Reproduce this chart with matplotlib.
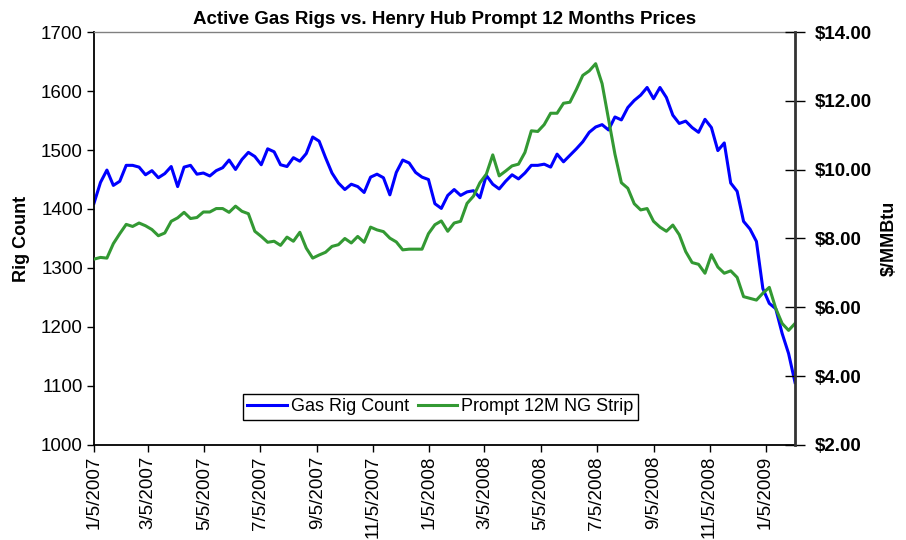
import numpy as np
import pandas as pd
import matplotlib
matplotlib.use("Agg")
import matplotlib.pyplot as plt
from matplotlib.ticker import FuncFormatter, MultipleLocator

plt.rcParams['font.family'] = ['Liberation Sans', 'DejaVu Sans']

# weekly data, Fridays starting 1/5/2007
week_start = "2007-01-05"
rig_count = [1410, 1445, 1466, 1440, 1447, 1474, 1474, 1471, 1458, 1465,
             1453, 1460, 1472, 1438, 1471, 1474, 1459, 1461, 1456, 1465,
             1470, 1483, 1467, 1484, 1496, 1489, 1475, 1502, 1497, 1475,
             1472, 1487, 1481, 1494, 1522, 1515, 1487, 1461, 1444, 1433,
             1442, 1438, 1428, 1454, 1459, 1453, 1424, 1462, 1483, 1478,
             1462, 1454, 1450, 1409, 1401, 1423, 1433, 1423, 1429, 1431,
             1419, 1457, 1442, 1434, 1447, 1458, 1451, 1461, 1474, 1474,
             1476, 1471, 1493, 1480, 1491, 1502, 1514, 1530, 1539, 1543,
             1534, 1556, 1551, 1572, 1584, 1593, 1606, 1587, 1606, 1589,
             1559, 1545, 1549, 1538, 1530, 1552, 1538, 1499, 1512, 1444,
             1430, 1379, 1366, 1345, 1265, 1240, 1231, 1189, 1155, 1106]
ng_strip = [7.40, 7.45, 7.43, 7.85, 8.14, 8.41, 8.35, 8.45, 8.37, 8.26,
            8.08, 8.16, 8.50, 8.60, 8.76, 8.58, 8.61, 8.77, 8.77, 8.87,
            8.87, 8.76, 8.94, 8.79, 8.72, 8.21, 8.06, 7.89, 7.92, 7.80,
            8.04, 7.92, 8.18, 7.72, 7.43, 7.52, 7.60, 7.77, 7.82, 8.00,
            7.87, 8.06, 7.89, 8.33, 8.25, 8.20, 8.01, 7.90, 7.67, 7.69,
            7.69, 7.69, 8.14, 8.40, 8.51, 8.21, 8.45, 8.50, 9.02, 9.23,
            9.62, 9.87, 10.43, 9.82, 9.96, 10.11, 10.16, 10.50, 11.13, 11.11,
            11.31, 11.64, 11.64, 11.93, 11.96, 12.33, 12.74, 12.87, 13.08, 12.50,
            11.47, 10.45, 9.62, 9.46, 9.01, 8.83, 8.87, 8.50, 8.33, 8.21,
            8.39, 8.11, 7.62, 7.30, 7.25, 6.99, 7.53, 7.17, 6.99, 7.06,
            6.87, 6.31, 6.26, 6.21, 6.41, 6.58, 5.97, 5.53, 5.33, 5.53]
tick_labels = ["1/5/2007", "3/5/2007", "5/5/2007", "7/5/2007", "9/5/2007",
               "11/5/2007", "1/5/2008", "3/5/2008", "5/5/2008", "7/5/2008",
               "9/5/2008", "11/5/2008", "1/5/2009"]

dates = pd.date_range(week_start, periods=len(rig_count), freq="7D")
tick_dates = pd.to_datetime(tick_labels, format="%m/%d/%Y")

fig = plt.figure(figsize=(9.06, 5.4), dpi=100)
ax = fig.add_axes([0.1038, 0.176, 0.7737, 0.7647])
ax2 = ax.twinx()

l1, = ax.plot(dates, rig_count, color="#0000FF", lw=2.2, label="Gas Rig Count")
l2, = ax2.plot(dates, ng_strip, color="#339933", lw=2.2, label="Prompt 12M NG Strip")

ax.set_xlim(dates[0], dates[-1])
ax.set_ylim(1000, 1700)
ax.yaxis.set_major_locator(MultipleLocator(100))
ax2.set_ylim(2, 14)
ax2.yaxis.set_major_locator(MultipleLocator(2))
ax2.yaxis.set_major_formatter(FuncFormatter(lambda v, p: "${:.2f}".format(v)))

ax.set_xticks(tick_dates)
ax.set_xticklabels(tick_labels, rotation=90, fontsize=13.5)
ax.tick_params(axis="x", direction="out", length=5, width=1, pad=3)
ax.tick_params(axis="y", direction="out", length=5, width=1, labelsize=13.5, pad=3)
ax2.tick_params(axis="y", direction="inout", length=14, width=1, labelsize=13.5, pad=7)
for t in ax2.get_yticklabels():
    t.set_fontweight("bold")

# spines like the excel plot area
ax.spines["top"].set_color("#808080")
ax.spines["top"].set_linewidth(1)
ax.spines["right"].set_visible(False)
ax.spines["left"].set_linewidth(1.3)
ax.spines["bottom"].set_linewidth(1.3)
for s in ["left", "top", "bottom"]:
    ax2.spines[s].set_visible(False)
ax2.spines["right"].set_color("#333333")
ax2.spines["right"].set_linewidth(2)

ax.set_ylabel("Rig Count", fontsize=13, fontweight="bold", labelpad=8)
fig.text(0.981, 0.558, "$/MMBtu", fontsize=13, fontweight="bold",
         rotation=90, ha="center", va="center")
ax.set_title("Active Gas Rigs vs. Henry Hub Prompt 12 Months Prices",
             fontsize=13.5, fontweight="bold", pad=6)

leg = ax2.legend([l1, l2], [l1.get_label(), l2.get_label()], ncol=2,
                 loc="center", bbox_to_anchor=(0.494, 0.092), fontsize=13,
                 frameon=True, fancybox=False, framealpha=1, handlelength=2.2,
                 handletextpad=0.2, columnspacing=0.5, borderpad=0.25,
                 borderaxespad=0)
leg.get_frame().set_edgecolor("black")
leg.get_frame().set_linewidth(1)

fig.savefig("out.png", dpi=100)
